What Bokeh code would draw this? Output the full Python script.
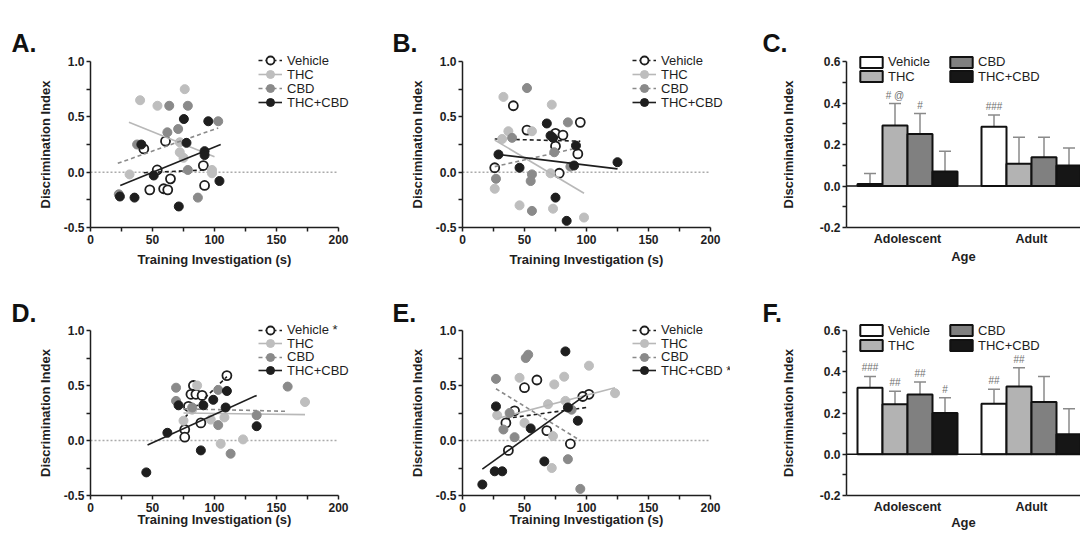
from bokeh.plotting import figure
from bokeh.models import (Legend, LegendItem, Label, LinearAxis, FixedTicker,
                          NumeralTickFormatter, Whisker, TeeHead, ColumnDataSource)
from bokeh.layouts import row, column
from bokeh.embed import file_html
from bokeh.resources import INLINE
from bokeh.core.properties import value

# ------------------------------------------------------------------ data
groups = ["Vehicle", "THC", "CBD", "THC+CBD"]

# Panel A
A_veh_x = [60.5, 43, 53.8, 91, 64.5, 92, 47.8, 59, 62.3]
A_veh_y = [0.28, 0.21, 0.02, 0.06, -0.06, -0.12, -0.16, -0.15, -0.16]
A_thc_x = [76, 40, 54, 72, 72, 75, 98, 98, 31.5]
A_thc_y = [0.75, 0.65, 0.60, 0.27, 0.18, 0.13, 0.02, -0.01, -0.02]
A_cbd_x = [63.5, 78.5, 103, 70.7, 62, 37.6, 78.5, 86.6, 22.8]
A_cbd_y = [0.60, 0.60, 0.46, 0.39, 0.36, 0.25, 0.02, -0.23, -0.20]
A_mix_x = [75.3, 95, 77.4, 41, 92, 92, 51, 104, 23.7, 35.5, 71.2]
A_mix_y = [0.48, 0.46, 0.265, 0.25, 0.19, 0.155, -0.03, -0.08, -0.22, -0.23, -0.31]
A_fit_veh = ([43, 93], [-0.005, 0.02])
A_fit_thc = ([31, 100], [0.45, 0.14])
A_fit_cbd = ([22, 103], [0.08, 0.40])
A_fit_mix = ([24, 105], [-0.12, 0.25])

# Panel B
B_veh_x = [41, 95, 52, 75, 81, 75, 93, 26, 78]
B_veh_y = [0.60, 0.45, 0.38, 0.35, 0.335, 0.235, 0.165, 0.04, -0.01]
B_thc_x = [33, 72, 37, 56, 32, 71, 26, 46, 73, 98]
B_thc_y = [0.68, 0.61, 0.37, 0.37, 0.30, -0.01, -0.15, -0.30, -0.33, -0.41]
B_cbd_x = [52, 85, 40, 74, 87, 56, 55, 27, 56]
B_cbd_y = [0.76, 0.45, 0.31, 0.18, 0.05, -0.02, -0.08, -0.06, -0.35]
B_mix_x = [68, 71, 73, 91.5, 29, 90, 46, 125, 75, 84]
B_mix_y = [0.44, 0.33, 0.31, 0.24, 0.16, 0.06, 0.04, 0.09, -0.23, -0.44]
B_fit_veh = ([26, 95], [0.30, 0.28])
B_fit_thc = ([26, 98], [0.29, -0.19])
B_fit_cbd = ([26, 89], [0.05, 0.21])
B_fit_mix = ([29, 125], [0.16, 0.03])

# Panel D
D_veh_x = [110, 83, 81, 85, 90, 79, 89, 76, 76]
D_veh_y = [0.59, 0.50, 0.42, 0.42, 0.41, 0.31, 0.16, 0.10, 0.03]
D_thc_x = [86, 173, 75, 97, 108, 123, 105, 82]
D_thc_y = [0.50, 0.35, 0.18, 0.19, 0.21, 0.01, -0.03, 0.28]
D_cbd_x = [159, 69, 103, 69, 103, 134, 113, 82]
D_cbd_y = [0.49, 0.48, 0.46, 0.36, 0.14, 0.23, -0.12, 0.30]
D_mix_x = [110, 99, 71, 91, 109, 62, 134, 89, 45]
D_mix_y = [0.45, 0.37, 0.32, 0.32, 0.30, 0.07, 0.13, -0.09, -0.29]
D_fit_veh = ([76, 110], [0.21, 0.58])
D_fit_thc = ([75, 173], [0.25, 0.235])
D_fit_cbd = ([69, 159], [0.29, 0.265])
D_fit_mix = ([46, 134], [-0.04, 0.41])

# Panel E
E_veh_x = [60, 50, 102, 97, 42, 35, 68, 87, 37]
E_veh_y = [0.55, 0.48, 0.42, 0.40, 0.27, 0.16, 0.09, -0.03, -0.09]
E_thc_x = [102, 46, 82, 74, 123, 69, 28, 50, 73, 72, 83]
E_thc_y = [0.68, 0.57, 0.58, 0.51, 0.43, 0.33, 0.23, 0.16, 0.04, -0.25, 0.36]
E_cbd_x = [53, 51, 27, 38, 33, 42, 85, 95, 88]
E_cbd_y = [0.78, 0.75, 0.56, 0.25, 0.10, 0.03, -0.17, -0.44, 0.28]
E_mix_x = [83, 27, 85, 93, 55, 66, 26, 32, 16]
E_mix_y = [0.81, 0.31, 0.30, 0.18, 0.11, -0.19, -0.28, -0.28, -0.40]
E_fit_veh = ([35, 100], [0.20, 0.30])
E_fit_thc = ([28, 123], [0.20, 0.48])
E_fit_cbd = ([27, 95], [0.47, 0.0])
E_fit_mix = ([16, 100], [-0.26, 0.42])

# Bar panels (Adolescent, Adult)
ages = ["Adolescent", "Adult"]
C_veh = [0.01, 0.285]
C_veh_err = [0.05, 0.057]
C_thc = [0.292, 0.107]
C_thc_err = [0.105, 0.128]
C_cbd = [0.251, 0.139]
C_cbd_err = [0.098, 0.096]
C_mix = [0.07, 0.099]
C_mix_err = [0.097, 0.084]
C_notes = {"Vehicle": ["", "###"], "THC": ["# @", ""], "CBD": ["#", ""], "THC+CBD": ["", ""]}

F_veh = [0.323, 0.245]
F_veh_err = [0.054, 0.07]
F_thc = [0.242, 0.329]
F_thc_err = [0.064, 0.09]
F_cbd = [0.29, 0.253]
F_cbd_err = [0.06, 0.124]
F_mix = [0.2, 0.097]
F_mix_err = [0.074, 0.124]
F_notes = {"Vehicle": ["###", "##"], "THC": ["##", "##"], "CBD": ["##", ""], "THC+CBD": ["#", ""]}

SC_X = (0, 200)
SC_Y = (-0.5, 1.0)
SC_XT = [0, 50, 100, 150, 200]
SC_XM = [25, 75, 125, 175]
SC_YT = [-0.5, 0, 0.5, 1.0]
SC_YM = [-0.25, 0.25, 0.75]
BAR_Y = (-0.2, 0.6)
BAR_YT = [-0.2, 0, 0.2, 0.4, 0.6]
BAR_YM = [-0.1, 0.1, 0.3, 0.5]

# ------------------------------------------------------------------ style / layout
FONT = "Liberation Sans"
INK = "#1e1e1e"
SC_STYLE = {
    "Vehicle": dict(fill="white", line=INK, lw=1.8, fit=INK, dash="4 3"),
    "THC": dict(fill="#bebebe", line="#bebebe", lw=1, fit="#b8b8b8", dash="solid"),
    "CBD": dict(fill="#8a8a8a", line="#8a8a8a", lw=1, fit="#8a8a8a", dash="4 3"),
    "THC+CBD": dict(fill=INK, line=INK, lw=1, fit=INK, dash="solid"),
}
BAR_FILL = {"Vehicle": "white", "THC": "#b3b3b3", "CBD": "#808080", "THC+CBD": "#161616"}
ERR_C = "#8a8a8a"

ROW1_TOP, ROW1_H = 0, 276
ROW2_TOP, ROW2_H = 276, 256
COL_LEFT = [0, 360, 730]
COL_W = [360, 370, 350]


def make_fig(fl, ft, w, h, px0, px1, dx0, dx1, pyt, pyb, dyt, dyb):
    """figure whose frame is the whole canvas; data (dx0,dx1)/(dyb,dyt) land on the given pixels"""
    sx = (px1 - px0) / (dx1 - dx0)
    sy = (pyb - pyt) / (dyt - dyb)
    xr = (dx0 - (px0 - fl) / sx, dx1 + (fl + w - px1) / sx)
    yr = (dyb - (ft + h - pyb) / sy, dyt + (pyt - ft) / sy)
    p = figure(width=w, height=h, title=None, x_range=xr, y_range=yr,
               x_axis_location=None, y_axis_location=None, output_backend="svg",
               toolbar_location=None, min_border=0)
    p.outline_line_color = None
    p.background_fill_color = "white"
    p.border_fill_color = "white"
    for g in p.grid:
        g.visible = False
        g.grid_line_color = None
    return p


def style_axis(ax):
    ax.axis_line_width = 1.5
    ax.axis_line_color = INK
    ax.major_tick_line_width = 1.5
    ax.minor_tick_line_width = 1.5
    ax.major_tick_line_color = INK
    ax.minor_tick_line_color = INK
    ax.major_tick_out = 4
    ax.major_tick_in = 0
    ax.minor_tick_out = 4
    ax.minor_tick_in = 0
    ax.major_label_text_font = FONT
    ax.major_label_text_font_size = "12px"
    ax.major_label_text_font_style = "bold"
    ax.major_label_text_color = INK
    ax.axis_label_text_font = FONT
    ax.axis_label_text_font_size = "13px"
    ax.axis_label_text_font_style = "bold"
    ax.axis_label_text_color = INK


def panel_letter(p, text, x, y):
    p.add_layout(Label(x=x, y=y, x_units="screen", y_units="screen", text=text,
                       text_font=FONT, text_font_size="25px", text_font_style="bold",
                       text_color="#111111", text_baseline="alphabetic"))


def one_legend(p, label, rends, x, y, gw, gh, lh, standoff):
    p.add_layout(Legend(items=[LegendItem(label=label, renderers=rends)], location=(x, y),
                        background_fill_alpha=0, border_line_color=None, padding=0, margin=0,
                        spacing=0, glyph_width=gw, glyph_height=gh, label_height=lh,
                        label_standoff=standoff, label_text_font=FONT,
                        label_text_font_size="13px", label_text_color=INK))


def scatter_panel(col, ft, h, px0, pyt, pyb, letter, letter_pos, pts, fits, labels,
                  tick_standoff, xlab_standoff, leg_px, leg_centers):
    fl, w = COL_LEFT[col], COL_W[col]
    p = make_fig(fl, ft, w, h, px0, px0 + 248, SC_X[0], SC_X[1], pyt, pyb, SC_Y[1], SC_Y[0])
    yax = LinearAxis(fixed_location=SC_X[0], bounds=SC_Y,
                     ticker=FixedTicker(ticks=SC_YT, minor_ticks=SC_YM),
                     formatter=NumeralTickFormatter(format="0.0"),
                     axis_label="Discrimination Index")
    style_axis(yax)
    yax.major_label_standoff = 2
    yax.axis_label_standoff = 8
    xax = LinearAxis(fixed_location=SC_Y[0], bounds=SC_X,
                     ticker=FixedTicker(ticks=SC_XT, minor_ticks=SC_XM),
                     formatter=NumeralTickFormatter(format="0"),
                     axis_label="Training Investigation (s)")
    style_axis(xax)
    xax.major_label_standoff = tick_standoff
    xax.axis_label_standoff = xlab_standoff
    p.add_layout(yax, "left")
    p.add_layout(xax, "below")
    # dotted zero reference line across the x axis extent
    p.line(list(SC_X), [0, 0], line_color="#ababab", line_width=1.5, line_dash="2 2")
    for g, lab, c in zip(groups, labels, leg_centers):
        st = SC_STYLE[g]
        xs, ys = pts[g]
        sr = p.scatter(xs, ys, size=9, marker="circle", fill_color=st["fill"],
                       line_color=st["line"], line_width=st["lw"])
        fx, fy = fits[g]
        lr = p.line(fx, fy, line_color=st["fit"], line_width=1.6, line_dash=st["dash"])
        one_legend(p, lab, [lr, sr], leg_px - fl, ft + h - c - 10, 24, 20, 20, 5)
    panel_letter(p, letter, letter_pos[0] - fl, ft + h - letter_pos[1])
    return p


BW = 25 / 124
OFFS = [-1.5 * BW, -0.5 * BW, 0.5 * BW, 1.5 * BW]
AGE_POS = [0, 1]


def bar_panel(ft, h, pyt, pyb, letter, letter_pos, vals, errs, notes,
              tick_standoff, xlab_standoff, leg_centers):
    fl, w = COL_LEFT[2], COL_W[2]
    p = make_fig(fl, ft, w, h, 907, 1031, AGE_POS[0], AGE_POS[1], pyt, pyb, BAR_Y[1], BAR_Y[0])
    x_axis_start = (846 - 907) / 124
    x_axis_end = (1094 - 907) / 124
    yax = LinearAxis(fixed_location=x_axis_start, bounds=BAR_Y,
                     ticker=FixedTicker(ticks=BAR_YT, minor_ticks=BAR_YM),
                     formatter=NumeralTickFormatter(format="0.0"),
                     axis_label="Discrimination Index")
    style_axis(yax)
    yax.major_label_standoff = 2
    yax.axis_label_standoff = 21
    xax = LinearAxis(fixed_location=BAR_Y[0], bounds=(x_axis_start, x_axis_end),
                     ticker=FixedTicker(ticks=AGE_POS, minor_ticks=[]),
                     major_label_overrides={0: ages[0], 1: ages[1]},
                     axis_label="Age")
    style_axis(xax)
    xax.major_tick_out = 0
    xax.major_label_standoff = tick_standoff
    xax.major_label_text_font_size = "12.5px"
    xax.axis_label_standoff = xlab_standoff
    p.add_layout(yax, "left")
    p.add_layout(xax, "below")
    rs = {}
    for i, g in enumerate(groups):
        xs = [a + OFFS[i] for a in AGE_POS]
        ups = [v + e for v, e in zip(vals[g], errs[g])]
        src = ColumnDataSource(dict(x=xs, top=vals[g], up=ups, note=notes[g]))
        p.add_layout(Whisker(source=src, base="x", lower="top", upper="up",
                             line_color=ERR_C, line_width=1.5,
                             upper_head=TeeHead(size=12, line_color=ERR_C, line_width=1.5),
                             lower_head=None))
        rs[g] = p.vbar(x="x", top="top", bottom=0, width=BW, source=src,
                       fill_color=BAR_FILL[g], line_color="#111111", line_width=2)
        p.text(x="x", y="up", text="note", source=src, text_align="center",
               text_baseline="bottom", y_offset=-3, text_font=value(FONT),
               text_font_size="10px", text_color="#707070")
    p.line([x_axis_start, x_axis_end], [0, 0], line_color="#111111", line_width=1.5)
    legx = [857, 857, 947, 947]
    legc = [leg_centers[0], leg_centers[1], leg_centers[0], leg_centers[1]]
    for g, lx, c in zip(groups, legx, legc):
        one_legend(p, g, [rs[g]], lx - fl, ft + h - c - 7.5, 28, 14, 14, 3)
    panel_letter(p, letter, letter_pos[0] - fl, ft + h - letter_pos[1])
    return p


def pts_of(vx, vy, tx, ty, cx, cy, mx, my):
    return {"Vehicle": (vx, vy), "THC": (tx, ty), "CBD": (cx, cy), "THC+CBD": (mx, my)}


def fits_of(v, t, c, m):
    return {"Vehicle": v, "THC": t, "CBD": c, "THC+CBD": m}


R1 = [60, 74, 88, 102]
R2 = [329.5, 343, 356.5, 370]

pA = scatter_panel(0, ROW1_TOP, ROW1_H, 90, 61, 227, "A.", (11, 42),
                   pts_of(A_veh_x, A_veh_y, A_thc_x, A_thc_y, A_cbd_x, A_cbd_y, A_mix_x, A_mix_y),
                   fits_of(A_fit_veh, A_fit_thc, A_fit_cbd, A_fit_mix),
                   ["Vehicle", "THC", "CBD", "THC+CBD"], 3, 5, 258, R1)
pB = scatter_panel(1, ROW1_TOP, ROW1_H, 462, 61, 227, "B.", (392, 42),
                   pts_of(B_veh_x, B_veh_y, B_thc_x, B_thc_y, B_cbd_x, B_cbd_y, B_mix_x, B_mix_y),
                   fits_of(B_fit_veh, B_fit_thc, B_fit_cbd, B_fit_mix),
                   ["Vehicle", "THC", "CBD", "THC+CBD"], 3, 5, 632, R1)
pC = bar_panel(ROW1_TOP, ROW1_H, 61, 227, "C.", (762, 42),
               {"Vehicle": C_veh, "THC": C_thc, "CBD": C_cbd, "THC+CBD": C_mix},
               {"Vehicle": C_veh_err, "THC": C_thc_err, "CBD": C_cbd_err, "THC+CBD": C_mix_err},
               C_notes, 4, 0, (61.5, 76))
pD = scatter_panel(0, ROW2_TOP, ROW2_H, 90, 330, 495, "D.", (11, 312),
                   pts_of(D_veh_x, D_veh_y, D_thc_x, D_thc_y, D_cbd_x, D_cbd_y, D_mix_x, D_mix_y),
                   fits_of(D_fit_veh, D_fit_thc, D_fit_cbd, D_fit_mix),
                   ["Vehicle *", "THC", "CBD", "THC+CBD"], 3, -3, 258, R2)
pE = scatter_panel(1, ROW2_TOP, ROW2_H, 462, 330, 495, "E.", (392, 312),
                   pts_of(E_veh_x, E_veh_y, E_thc_x, E_thc_y, E_cbd_x, E_cbd_y, E_mix_x, E_mix_y),
                   fits_of(E_fit_veh, E_fit_thc, E_fit_cbd, E_fit_mix),
                   ["Vehicle", "THC", "CBD", "THC+CBD *"], 3, -3, 632, R2)
pF = bar_panel(ROW2_TOP, ROW2_H, 330, 495, "F.", (762, 312),
               {"Vehicle": F_veh, "THC": F_thc, "CBD": F_cbd, "THC+CBD": F_mix},
               {"Vehicle": F_veh_err, "THC": F_thc_err, "CBD": F_cbd_err, "THC+CBD": F_mix_err},
               F_notes, 4, -2, (330, 345))

layout = column(row(pA, pB, pC), row(pD, pE, pF))
open("out.html", "w").write(file_html(layout, INLINE))
